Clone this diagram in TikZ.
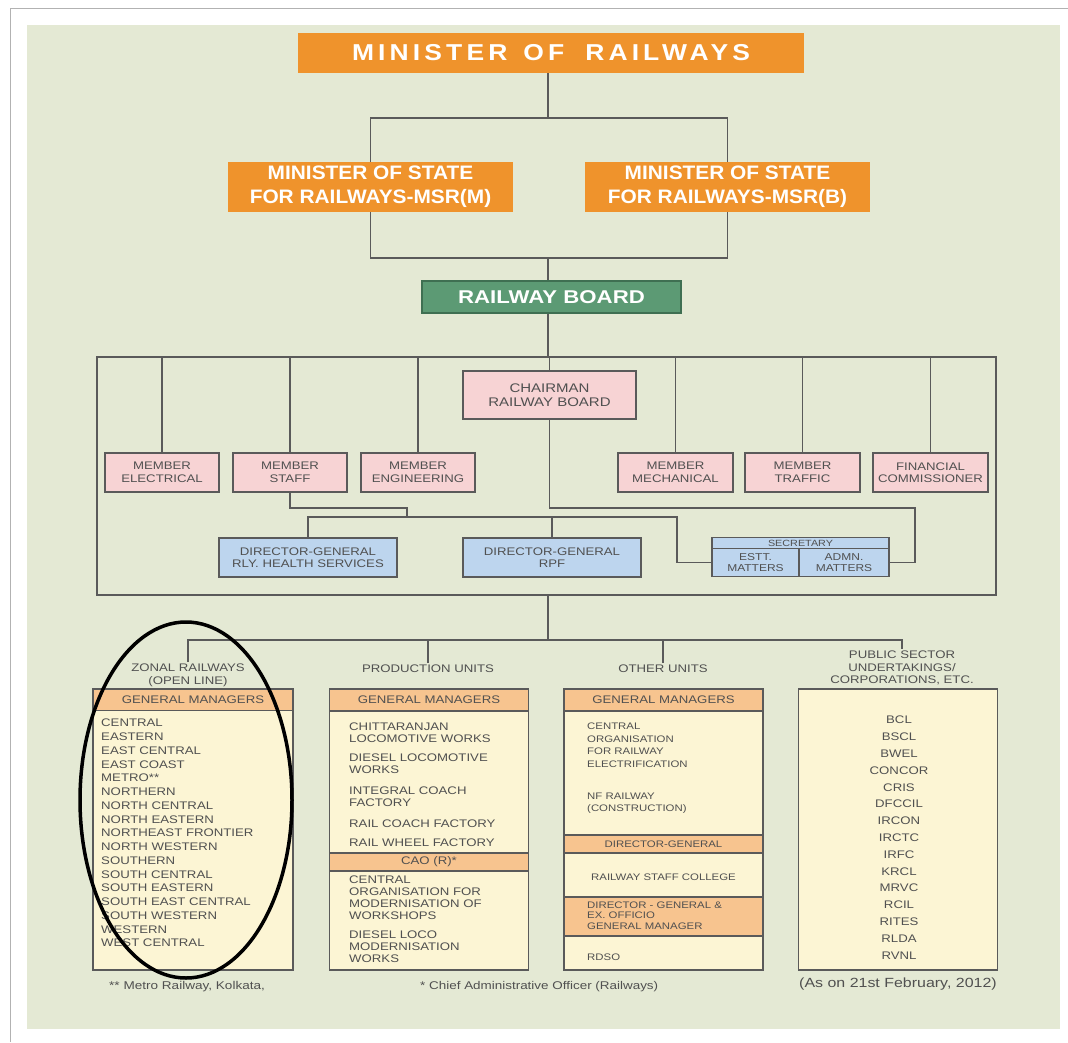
\documentclass[tikz,border=0pt]{standalone}
\usepackage{fontspec}
\setmainfont{Liberation Sans}
\newfontfamily\widefont[FakeStretch=1.2]{Liberation Sans}
\newfontfamily\titlefont[FakeStretch=1.15,LetterSpace=18]{Liberation Sans}
\newfontfamily\msrfont[FakeStretch=1.07]{Liberation Sans}
\usetikzlibrary{positioning}

\definecolor{panel}{HTML}{E4E9D4}
\definecolor{mrorange}{HTML}{EF932C}
\definecolor{boardgreen}{HTML}{5C9A74}
\definecolor{boardedge}{HTML}{3F6F52}
\definecolor{pinkfill}{HTML}{F7D3D4}
\definecolor{bluefill}{HTML}{BDD5EE}
\definecolor{hdrfill}{HTML}{F7C48F}
\definecolor{creamfill}{HTML}{FCF5D4}
\definecolor{linegrey}{HTML}{5A5A5A}
\definecolor{textgrey}{HTML}{505050}

\newcommand{\smalltxt}{\widefont\fontsize{11}{12.5}\selectfont}

\begin{document}
\begin{tikzpicture}[x=1pt,y=-1pt,
    conn/.style={draw=linegrey,line width=1.2pt},
    mrbox/.style={fill=mrorange,text=white,inner sep=0pt,align=center},
    msrbox/.style={mrbox,minimum width=285pt,minimum height=50pt,
      font=\msrfont\bfseries\fontsize{19.5}{24}\selectfont},
    boardbox/.style={fill=boardgreen,draw=boardedge,line width=1.2pt,text=white,
      minimum width=259pt,minimum height=32pt,inner sep=0pt,
      font=\widefont\bfseries\fontsize{18.5}{22}\selectfont},
    pinkbox/.style={fill=pinkfill,draw=linegrey,line width=1.2pt,text=textgrey,
      minimum width=114pt,minimum height=39pt,inner sep=0pt,align=center,font=\smalltxt},
    bluebox/.style={pinkbox,fill=bluefill},
    colbox/.style={fill=creamfill,draw=linegrey,line width=1.3pt,
      minimum width=199pt,minimum height=281pt,inner sep=0pt},
    hdrbox/.style={fill=hdrfill,draw=linegrey,line width=1.2pt,text=textgrey,
      minimum width=199pt,inner sep=0pt,font=\smalltxt},
    listtext/.style={anchor=north west,inner sep=0pt,align=left,text=textgrey},
    collabel/.style={text=textgrey,align=center,inner sep=2pt,font=\smalltxt},
    foot/.style={anchor=west,text=textgrey,inner sep=0pt}]

  % page and panel
  \fill[white] (0,0) rectangle (1068,1042);
  \useasboundingbox (0,0) rectangle (1068,1042);
  \draw[black!30,line width=1pt] (10,1042) -- (10,8) -- (1068,8);
  \fill[panel] (27,25) rectangle (1060,1029);

  % top of the tree
  \node[mrbox,minimum width=506pt,minimum height=40pt,
    font=\titlefont\bfseries\fontsize{23}{25}\selectfont]
    (mor) at (551,53) {MINISTER\hspace*{16pt}OF\hspace*{21pt}RAILWAYS};
  \node[msrbox] (msrm) at (370.5,187) {MINISTER OF STATE\\FOR RAILWAYS-MSR(M)};
  \node[msrbox] (msrb) at (727.5,187) {MINISTER OF STATE\\FOR RAILWAYS-MSR(B)};
  \node[boardbox] (rb) at (551.5,297) {RAILWAY BOARD};

  \coordinate (top) at (548,118);
  \coordinate (mid) at (548,258);
  \coordinate (bus) at (548,357);
  \coordinate (bustl) at (97,357);
  \coordinate (busbr) at (996,595);

  \draw[conn] (mor.south -| top) -- (top);
  \draw[conn] (msrm.north) |- (top) -| (msrb.north);
  \draw[conn] (msrm.south) |- (mid) -| (msrb.south);
  \draw[conn] (mid) -- (rb.north -| mid);
  \draw[conn] (rb.south -| mid) -- (bus);
  \draw[conn] (bustl) rectangle (busbr);

  % board members
  \node[pinkbox,minimum width=173pt,minimum height=48pt,
    font=\widefont\fontsize{12.5}{14}\selectfont]
    (ch) at (549.5,395) {CHAIRMAN\\RAILWAY BOARD};
  \node[pinkbox] (mel) at (162,472.5) {MEMBER\\ELECTRICAL};
  \node[pinkbox] (mst) at (290,472.5) {MEMBER\\STAFF};
  \node[pinkbox] (men) at (418,472.5) {MEMBER\\ENGINEERING};
  \node[pinkbox,minimum width=115pt] (mme) at (675.5,472.5) {MEMBER\\MECHANICAL};
  \node[pinkbox,minimum width=115pt] (mtr) at (802.5,472.5) {MEMBER\\TRAFFIC};
  \node[pinkbox,minimum width=115pt] (fc) at (930.5,472.5) {FINANCIAL\\COMMISSIONER};

  \draw[conn] (ch.north) -- (ch.north |- bus);
  \foreach \m in {mel,mst,men,mme,mtr,fc}
    \draw[conn] (\m.north) -- (\m.north |- bus);

  % directors and secretary
  \node[bluebox,minimum width=178pt] (dgh) at (308,557.5)
    {DIRECTOR-GENERAL\\RLY. HEALTH SERVICES};
  \node[bluebox,minimum width=178pt] (dgr) at (552,557.5) {DIRECTOR-GENERAL\\RPF};
  \node[bluebox,minimum width=177pt,minimum height=11pt,
    font=\widefont\fontsize{9}{10}\selectfont] (sec) at (800.5,543) {SECRETARY};
  \node[bluebox,minimum width=87pt,minimum height=28pt,
    font=\widefont\fontsize{10}{11.5}\selectfont] (estt) at (755.5,562.5) {ESTT.\\MATTERS};
  \node[bluebox,minimum width=90pt,minimum height=28pt,
    font=\widefont\fontsize{10}{11.5}\selectfont] (admn) at (844,562.5) {ADMN.\\MATTERS};

  \coordinate (stf) at (407,508);
  \coordinate (dgbar) at (407,517);
  \coordinate (chturn) at (915,508);
  \coordinate (secturn) at (677,517);
  \draw[conn] (mst.south) |- (stf) -- (dgbar);
  \draw[conn] (dgh.north) |- (secturn) |- (estt.west);
  \draw[conn] (dgr.north) -- (dgr.north |- dgbar);
  \draw[conn] (ch.south) |- (chturn) |- (admn.east);

  % lower units
  \coordinate (low) at (548,640);
  \draw[conn] (bus |- busbr) -- (low);

  \node[collabel] (zl) at (188,675.5) {ZONAL RAILWAYS\\(OPEN LINE)};
  \node[collabel] (pl) at (428,669) {PRODUCTION UNITS};
  \node[collabel] (ol) at (663,669) {OTHER UNITS};
  \node[collabel] (sl) at (902,668) {PUBLIC SECTOR\\UNDERTAKINGS/\\CORPORATIONS, ETC.};

  \draw[conn] (zl.north) |- (low) -| (sl.north);
  \draw[conn] (pl.north) -- (pl.north |- low);
  \draw[conn] (ol.north) -- (ol.north |- low);

  % zonal railways
  \node[colbox,minimum width=200pt] (zbox) at (193,829.5) {};
  \node[hdrbox,minimum width=200pt,minimum height=21pt] (zhdr) at (193,700) {GENERAL MANAGERS};
  \node[listtext,font=\widefont\fontsize{11}{13.75}\selectfont] (zlist) at (101,719)
    {CENTRAL\\EASTERN\\EAST CENTRAL\\EAST COAST\\METRO**\\NORTHERN\\NORTH CENTRAL\\
     NORTH EASTERN\\NORTHEAST FRONTIER\\NORTH WESTERN\\SOUTHERN\\SOUTH CENTRAL\\
     SOUTH EASTERN\\SOUTH EAST CENTRAL\\SOUTH WESTERN\\WESTERN\\WEST CENTRAL};

  % production units
  \node[colbox] (pbox) at (429,829.5) {};
  \node[hdrbox,minimum height=22pt] (phdr) at (429,700) {GENERAL MANAGERS};
  \node[hdrbox,minimum height=18pt] (pcao) at (429,862) {CAO (R)*};
  \node[listtext,font=\widefont\fontsize{11}{12}\selectfont] (plist) at (349,723)
    {CHITTARANJAN\\LOCOMOTIVE WORKS\\[7pt]DIESEL LOCOMOTIVE\\WORKS\\[9pt]
     INTEGRAL COACH\\FACTORY\\[9pt]RAIL COACH FACTORY\\[7pt]RAIL WHEEL FACTORY};
  \node[listtext,font=\widefont\fontsize{11}{12}\selectfont] (pcaolist) at (349,876)
    {CENTRAL\\ORGANISATION FOR\\MODERNISATION OF\\WORKSHOPS\\[7pt]
     DIESEL LOCO\\MODERNISATION\\WORKS};

  % other units
  \node[colbox] (obox) at (663.5,829.5) {};
  \node[hdrbox,minimum height=22pt] (ohdr) at (663.5,700) {GENERAL MANAGERS};
  \node[hdrbox,minimum height=18pt,font=\widefont\fontsize{9.5}{11}\selectfont]
    (odg) at (663.5,844) {DIRECTOR-GENERAL};
  \node[hdrbox,minimum height=39pt] (odgex) at (663.5,916.5) {};
  \node[listtext,font=\widefont\fontsize{9.5}{10.5}\selectfont] (odgextext) at (587,901.5)
    {DIRECTOR - GENERAL \&\\EX. OFFICIO\\GENERAL MANAGER};
  \node[listtext,font=\widefont\fontsize{9.5}{12.7}\selectfont] (olist) at (587,722.5)
    {CENTRAL\\ORGANISATION\\FOR RAILWAY\\ELECTRIFICATION\\[19pt]NF RAILWAY\\(CONSTRUCTION)};
  \node[text=textgrey,inner sep=0pt,font=\widefont\fontsize{9.5}{11}\selectfont]
    (rsc) at (663.5,877) {RAILWAY STAFF COLLEGE};
  \node[foot,font=\widefont\fontsize{9.5}{11}\selectfont] (rdso) at (587,957) {RDSO};

  % public sector undertakings
  \node[colbox] (sbox) at (898,829.5) {};
  \node[text=textgrey,align=center,anchor=north,inner sep=0pt,
    font=\widefont\fontsize{11}{16.8}\selectfont] (slist) at (899,716)
    {BCL\\BSCL\\BWEL\\CONCOR\\CRIS\\DFCCIL\\IRCON\\IRCTC\\IRFC\\KRCL\\MRVC\\RCIL\\
     RITES\\RLDA\\RVNL};

  % notes
  \node[foot,font=\widefont\fontsize{11.3}{13}\selectfont] (fn1) at (109,987)
    {** Metro Railway, Kolkata,};
  \node[foot,font=\widefont\fontsize{11.2}{13}\selectfont] (fn2) at (420,987)
    {* Chief Administrative Officer (Railways)};
  \node[foot,font=\widefont\fontsize{13.3}{15}\selectfont] (asof) at (799,984)
    {(As on 21st February, 2012)};

  % hand-drawn ring round the zonal railways
  \draw[black,line width=3.5pt] (186,800) ellipse [x radius=106pt,y radius=178pt];
\end{tikzpicture}
\end{document}
